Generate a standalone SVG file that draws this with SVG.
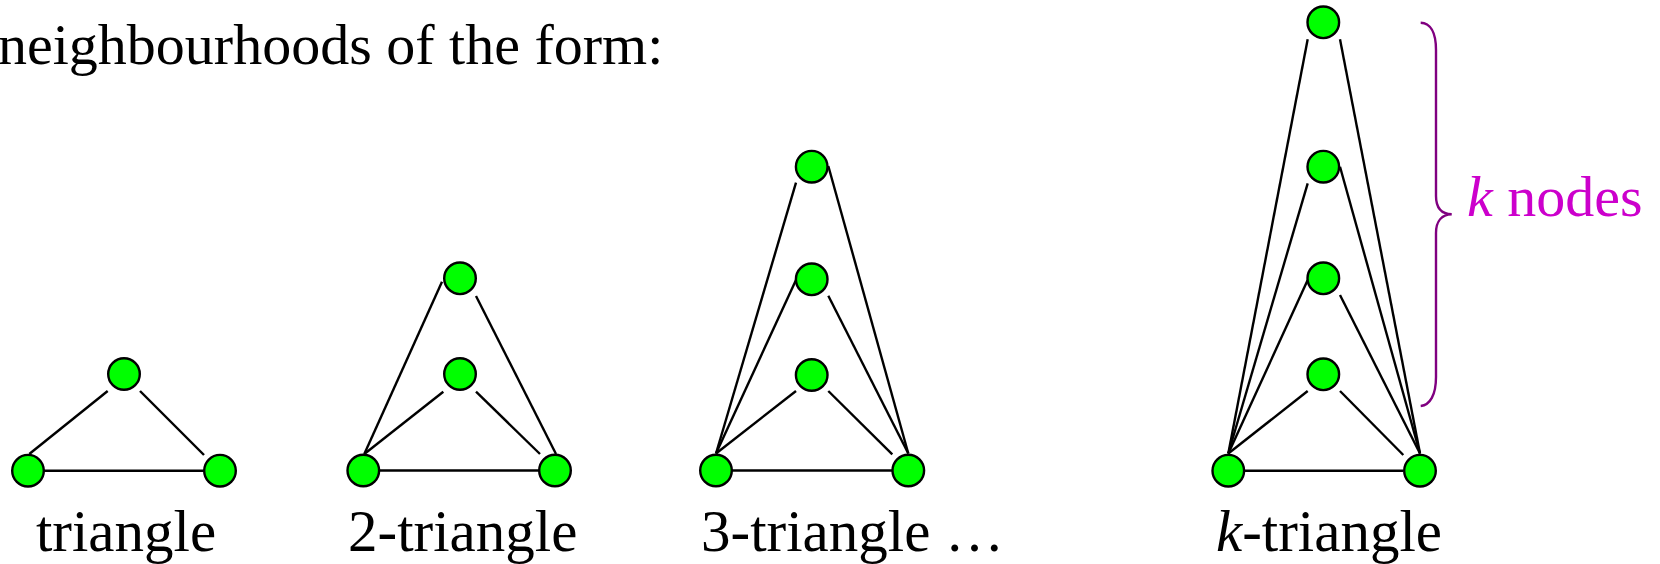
<svg xmlns="http://www.w3.org/2000/svg" width="1660" height="564" viewBox="0 0 1660 564">
<style>
.node{fill:#00ff00;stroke:#000;stroke-width:2.4}
.edge{stroke:#000;stroke-width:2.4;fill:none}
.t{font-family:"Liberation Serif","Times New Roman",serif;font-size:59px;fill:#000}
.k{font-style:italic}
.brace{fill:none;stroke:#800080;stroke-width:2.4}
.lbl{font-family:"Liberation Serif","Times New Roman",serif;font-size:58px;fill:#cc00cc}
</style>
<rect width="1660" height="564" fill="#fff"/>
<text class="t" x="-2" y="64" style="font-size:58px">neighbourhoods of the form:</text>
<g id="connectors">
<line class="edge" x1="107.7" y1="391" x2="29.3" y2="454"/>
<line class="edge" x1="140" y1="391" x2="204" y2="455"/>
<line class="edge" x1="43.3" y1="470.7" x2="204" y2="470.7"/>
<line class="edge" x1="442" y1="281.7" x2="364.3" y2="454"/>
<line class="edge" x1="476" y1="296" x2="556" y2="454"/>
<line class="edge" x1="443.3" y1="391.7" x2="364.3" y2="454"/>
<line class="edge" x1="476" y1="391.7" x2="540" y2="454"/>
<line class="edge" x1="380" y1="470.5" x2="540" y2="470.5"/>
<line class="edge" x1="796" y1="182.7" x2="716" y2="453.5"/>
<line class="edge" x1="828.3" y1="166" x2="908.3" y2="453.5"/>
<line class="edge" x1="796" y1="280" x2="716" y2="453.5"/>
<line class="edge" x1="828.3" y1="295.7" x2="908.3" y2="453.5"/>
<line class="edge" x1="796" y1="391" x2="716" y2="453.5"/>
<line class="edge" x1="828.3" y1="391" x2="892.3" y2="454.3"/>
<line class="edge" x1="731.7" y1="470.5" x2="892.7" y2="470.5"/>
<line class="edge" x1="1307.7" y1="39.3" x2="1228.3" y2="453.5"/>
<line class="edge" x1="1340" y1="39.3" x2="1420" y2="453.5"/>
<line class="edge" x1="1307.7" y1="183.3" x2="1228.3" y2="453.5"/>
<line class="edge" x1="1340" y1="166.7" x2="1420" y2="453.5"/>
<line class="edge" x1="1307.7" y1="280" x2="1228.3" y2="453.5"/>
<line class="edge" x1="1340" y1="295" x2="1420" y2="453.5"/>
<line class="edge" x1="1307.7" y1="391" x2="1228.3" y2="453.5"/>
<line class="edge" x1="1340" y1="391" x2="1403.3" y2="455"/>
<line class="edge" x1="1245" y1="470.7" x2="1403.3" y2="470.7"/>
</g>
<g id="tri1">
<circle id="t1-top" class="node" cx="124" cy="374" r="15.8"/>
<circle id="t1-bl" class="node" cx="28" cy="470.7" r="15.8"/>
<circle id="t1-br" class="node" cx="220" cy="470.7" r="15.8"/>
<text class="t" x="126" y="551" text-anchor="middle">triangle</text>
</g>
<g id="tri2">
<circle id="t2-top" class="node" cx="460" cy="278.3" r="15.8"/>
<circle id="t2-mid" class="node" cx="460" cy="374" r="15.8"/>
<circle id="t2-bl" class="node" cx="363.3" cy="470.5" r="15.8"/>
<circle id="t2-br" class="node" cx="555" cy="470.5" r="15.8"/>
<text class="t" x="348" y="551">2-triangle</text>
</g>
<g id="tri3">
<circle id="t3-top" class="node" cx="811.7" cy="166.7" r="15.8"/>
<circle id="t3-mid" class="node" cx="811.7" cy="279.3" r="15.8"/>
<circle id="t3-low" class="node" cx="811.7" cy="375" r="15.8"/>
<circle id="t3-bl" class="node" cx="716" cy="470.5" r="15.8"/>
<circle id="t3-br" class="node" cx="908.3" cy="470.5" r="15.8"/>
<text class="t" x="701" y="551">3-triangle …</text>
</g>
<g id="trik">
<circle id="tk-1" class="node" cx="1323.3" cy="22.3" r="15.8"/>
<circle id="tk-2" class="node" cx="1323.3" cy="166.7" r="15.8"/>
<circle id="tk-3" class="node" cx="1323.3" cy="278.3" r="15.8"/>
<circle id="tk-4" class="node" cx="1323.3" cy="374.3" r="15.8"/>
<circle id="tk-bl" class="node" cx="1228.3" cy="470.7" r="15.8"/>
<circle id="tk-br" class="node" cx="1420" cy="470.7" r="15.8"/>
<text class="t" x="1216" y="551"><tspan class="k">k</tspan>-triangle</text>
</g>
<g id="brace">
<path class="brace" d="M1420.7,22.7 C1430,23 1436,32 1436,50 L1436,196 C1436,208 1442,214 1451.7,214.3 C1442,214.6 1436,221 1436,233 L1436,377 C1436,395 1430,405 1420.7,406"/>
<text class="lbl" x="1467" y="216"><tspan class="k">k</tspan> nodes</text>
</g>
</svg>
